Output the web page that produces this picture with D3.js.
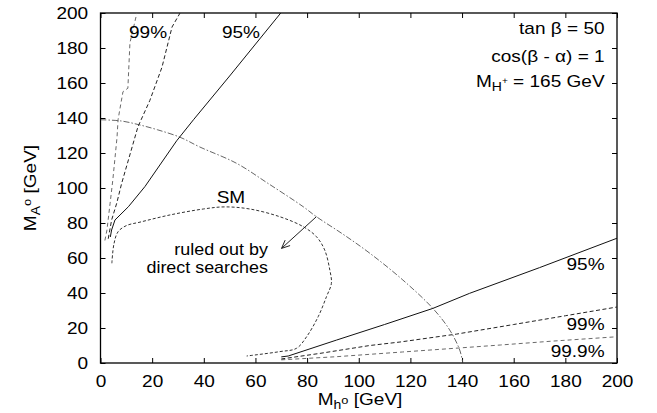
<!DOCTYPE html>
<html>
<head>
<meta charset="utf-8">
<script src="https://cdn.jsdelivr.net/npm/d3@7"></script>
<style>
  html, body { margin: 0; padding: 0; background: #fff; }
  svg { display: block; font-family: "Liberation Sans", Arial, Helvetica, sans-serif; }
</style>
</head>
<body>
<svg id="chart" width="657" height="413"></svg>
<script>
// Axis ticks (GeV)
const xTicks = [0, 20, 40, 60, 80, 100, 120, 140, 160, 180, 200];
const yTicks = [0, 20, 40, 60, 80, 100, 120, 140, 160, 180, 200];

// Exclusion contours in the (M_h0, M_A0) plane, points as [M_h0, M_A0]
const cl95Upper = [[3.8,72],[4.3,76],[5.6,81.7],[10.8,89.3],[17.2,100.8],[29.5,127],[36,139],[50,164],[69.8,200]];
const cl99Upper = [[3,71],[4.3,81.7],[6.3,91.4],[8.2,102.7],[10.8,116],[14.5,135],[19.1,150],[23.8,169],[27.7,192],[30.8,200]];
const cl999Upper = [[1.7,70],[2.5,76],[3.7,91],[4.8,105],[6.4,129],[6.8,139],[7.5,145],[8.7,155],[10.6,157],[11.4,183],[14.1,200]];

const cl95Lower = [[70,3.5],[72.7,4],[91.4,13.1],[110,22],[128.7,31.2],[142.9,39.8],[170,54.5],[200,71.3]];
const cl99Lower = [[70,2.3],[85,5.5],[104.3,10],[116,12],[137.8,16.5],[160,22],[180,27],[200,32]];
const cl999Lower = [[70,1.8],[91.4,3.6],[117,6.3],[139,8.6],[155,10.3],[175,12.5],[200,15]];

// Boundary of the region ruled out by direct searches
const directSearch = [[0,139],[8,138.3],[15.3,136],[22,133.3],[30.8,129],[38.5,123.4],[52.7,114.1],[65,102.5],[78.5,89.3],[83.6,83.6],[94,73.5],[104.3,62.7],[117.1,47.4],[128.7,31.2],[135.2,18.9],[139.1,7.4],[140.3,0]];

// Standard Model contour
const smCurve = [[4.4,57],[5.2,68],[6.8,75],[10,78.5],[15.3,80.5],[26.9,84.6],[39.8,88],[48,89.2],[57.8,88],[69.4,83.6],[78.5,77.9],[83.6,72.2],[86.8,64.6],[88.8,53.1],[89.4,45.5],[87.5,37.9],[84.3,26.5],[79.8,15],[75.9,8.4],[69.4,6.5],[56.6,4]];

// Arrow pointing into the excluded region: [start, tip]
const arrowPts = [[83.6,83.6],[70.1,65.5]];

const plot = { left: 100.5, right: 617, top: 13, bottom: 363 };
const fs = 17;        // base font size
const stretch = 1.12; // horizontal text stretch

const svg = d3.select("#chart");
const x = d3.scaleLinear().domain([0, 200]).range([plot.left, plot.right]);
const y = d3.scaleLinear().domain([0, 200]).range([plot.bottom, plot.top]);

svg.append("defs").append("clipPath").attr("id", "plotClip")
  .append("rect")
  .attr("x", plot.left).attr("y", plot.top)
  .attr("width", plot.right - plot.left).attr("height", plot.bottom - plot.top);

// Axes with inward ticks on all four sides
function styleAxis(g) {
  g.attr("font-family", "Liberation Sans, Arial, Helvetica, sans-serif").attr("font-size", fs);
  g.select(".domain").remove();
  g.selectAll(".tick line").attr("stroke", "#000").attr("stroke-width", 1);
  g.selectAll(".tick text").attr("fill", "#000").attr("transform", `scale(${stretch},1)`);
}

svg.append("g").attr("transform", `translate(0,${plot.bottom})`)
  .call(d3.axisBottom(x).tickValues(xTicks).tickSizeInner(-5).tickSizeOuter(0).tickPadding(12))
  .call(styleAxis);
svg.append("g").attr("transform", `translate(0,${plot.top})`)
  .call(d3.axisTop(x).tickValues(xTicks).tickSizeInner(-5).tickSizeOuter(0).tickFormat(""))
  .call(styleAxis);
svg.append("g").attr("transform", `translate(${plot.left},0)`)
  .call(d3.axisLeft(y).tickValues(yTicks).tickSizeInner(-5).tickSizeOuter(0).tickPadding(11))
  .call(styleAxis);
svg.append("g").attr("transform", `translate(${plot.right},0)`)
  .call(d3.axisRight(y).tickValues(yTicks).tickSizeInner(-5).tickSizeOuter(0).tickFormat(""))
  .call(styleAxis);

// Frame
svg.append("rect")
  .attr("x", plot.left).attr("y", plot.top)
  .attr("width", plot.right - plot.left).attr("height", plot.bottom - plot.top)
  .attr("fill", "none").attr("stroke", "#000").attr("stroke-width", 1.3);

// Curves
const lineLin = d3.line().x(d => x(d[0])).y(d => y(d[1]));
const lineSmooth = d3.line().x(d => x(d[0])).y(d => y(d[1])).curve(d3.curveCatmullRom.alpha(0.5));

const curves = svg.append("g").attr("clip-path", "url(#plotClip)").attr("fill", "none");

function drawCurve(data, gen, color, width, dash) {
  curves.append("path").datum(data)
    .attr("d", gen)
    .attr("stroke", color)
    .attr("stroke-width", width)
    .attr("stroke-dasharray", dash)
    .attr("stroke-linejoin", "round");
}

drawCurve(directSearch, lineSmooth, "#555", 0.9, "6,2,1.5,2");
drawCurve(smCurve, lineSmooth, "#333", 1, "3,2");
drawCurve(cl999Upper, lineLin, "#6a6a6a", 1, "4,3");
drawCurve(cl99Upper, lineLin, "#222", 1, "4,2.5");
drawCurve(cl95Upper, lineLin, "#111", 1, null);
drawCurve(cl999Lower, lineLin, "#6a6a6a", 1, "4,3");
drawCurve(cl99Lower, lineLin, "#222", 1, "4,2.5");
drawCurve(cl95Lower, lineLin, "#111", 1, null);

// Arrow into excluded region
{
  const [p0, p1] = arrowPts.map(d => [x(d[0]), y(d[1])]);
  const ang = Math.atan2(p1[1] - p0[1], p1[0] - p0[0]);
  const headLen = 9, headAng = 0.42;
  const a = svg.append("g").attr("stroke", "#222").attr("stroke-width", 1).attr("fill", "none");
  a.append("line").attr("x1", p0[0]).attr("y1", p0[1]).attr("x2", p1[0]).attr("y2", p1[1]);
  a.append("path").attr("d",
    `M${p1[0] - headLen * Math.cos(ang - headAng)},${p1[1] - headLen * Math.sin(ang - headAng)}` +
    `L${p1[0]},${p1[1]}` +
    `L${p1[0] - headLen * Math.cos(ang + headAng)},${p1[1] - headLen * Math.sin(ang + headAng)}`);
}

// Text helper (stretched horizontally around its anchor point)
function label(px, py, anchor, rotate, size) {
  const rot = rotate ? ` rotate(${rotate})` : "";
  return svg.append("text")
    .attr("transform", `translate(${px},${py})${rot} scale(${stretch},1)`)
    .attr("text-anchor", anchor)
    .attr("font-size", size || fs)
    .attr("fill", "#000");
}

// Contour labels
label(x(18.4), y(186), "middle").text("99%");
label(x(54.4), y(186), "middle").text("95%");
label(x(195.2), y(53), "end").text("95%");
label(x(195.2), y(18.9), "end").text("99%");
label(x(195.2), y(3.4), "end").text("99.9%");
label(x(50.5), y(91.4), "middle").text("SM");
label(x(64.8), y(61.6), "end", 0, 16).text("ruled out by");
label(x(64.8), y(51.4), "end", 0, 16).text("direct searches");

// Parameter box
label(x(195.2), y(188), "end").text("tan β = 50");
label(x(195.2), y(172), "end").text("cos(β - α) = 1");
{
  const t = label(x(195.2), y(157.7), "end");
  t.append("tspan").text("M");
  t.append("tspan").attr("dy", 4).attr("font-size", 12.5).text("H");
  t.append("tspan").attr("dy", -7).attr("font-size", 9).text("+");
  t.append("tspan").attr("dy", 3).attr("font-size", fs).text(" = 165 GeV");
}

// Axis titles
{
  const t = label(360, 405, "middle");
  t.append("tspan").text("M");
  t.append("tspan").attr("dy", 4).attr("font-size", 12.5).text("h");
  t.append("tspan").attr("dy", -5).attr("font-size", 11.5).text("o");
  t.append("tspan").attr("dy", 1).attr("font-size", fs).text(" [GeV]");
}
{
  const t = label(36, 188, "middle", -90);
  t.append("tspan").text("M");
  t.append("tspan").attr("dy", 4).attr("font-size", 12.5).text("A");
  t.append("tspan").attr("dy", -9).attr("font-size", 11.5).text("o");
  t.append("tspan").attr("dy", 5).attr("font-size", fs).text(" [GeV]");
}
</script>
</body>
</html>
